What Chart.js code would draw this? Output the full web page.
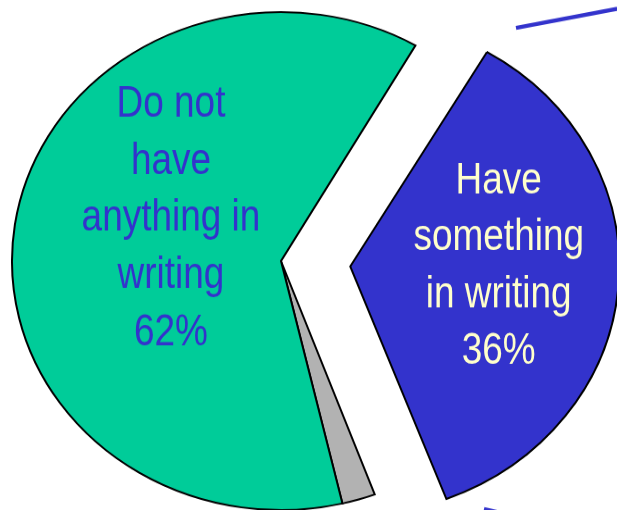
<!DOCTYPE html>
<html>
<head>
<meta charset="utf-8">
<script src="https://cdn.jsdelivr.net/npm/chart.js@4/dist/chart.umd.min.js"></script>
<style>
  html, body { margin: 0; padding: 0; background: #fff; overflow: hidden; }
  /* the original pie is a little flatter than a circle */
  #wrap { position: absolute; left: 0; top: 0; width: 617px; height: 551px; transform: scaleY(0.9257); transform-origin: 0 0; }
</style>
</head>
<body>
<div id="wrap"><canvas id="pie" width="617" height="551"></canvas></div>
<script>
const categories = ['Have something in writing', 'Other', 'Do not have anything in writing'];
const values = [36, 2, 62];
const labelLines = [['Have', 'something', 'in writing'], [], ['Do not', 'have', 'anything in', 'writing']];

const SQUISH = 0.9257;
const NARROW = 0.84; // no Arial Narrow here, so squeeze Liberation Sans instead
const sliceColors = ['#3333CC', '#B2B2B2', '#00CC99'];
const textColors = ['#FFFFCC', null, '#3333CC'];
const explode = [278, 0, 0];
// where the middle text baseline sits, as a fraction of the radius from the slice tip
const labelAnchor = [[0.552, 0.045], null, [-0.409, -0.112]];

// chart.js makes an offset slice bigger, keep it the same size as the rest
const keepRadius = {
  id: 'keepRadius',
  beforeDatasetDraw(chart, args) {
    const meta = args.meta;
    const full = meta.controller.outerRadius;
    meta.data.forEach(arc => {
      const off = (arc.options.offset || 0) / 4;
      const fix = 1 - Math.sin(Math.min(Math.PI, arc.circumference));
      arc.outerRadius = full - off * fix;
    });
  }
};

const sliceText = {
  id: 'sliceText',
  afterDatasetsDraw(chart) {
    const ctx = chart.ctx;
    const meta = chart.getDatasetMeta(0);
    const r = meta.controller.outerRadius;
    meta.data.forEach((arc, i) => {
      if (!labelAnchor[i]) return;
      const lines = labelLines[i].concat([values[i] + '%']);
      const half = (arc.startAngle + arc.endAngle) / 2;
      const shift = (arc.options.offset || 0) / 4;
      ctx.save();
      ctx.translate(arc.x + Math.cos(half) * shift, arc.y + Math.sin(half) * shift);
      ctx.scale(NARROW, 1 / SQUISH);
      ctx.font = '44px "Liberation Sans", Arial, sans-serif';
      ctx.fillStyle = textColors[i];
      ctx.textAlign = 'center';
      ctx.textBaseline = 'alphabetic';
      const mid = (lines.length - 1) / 2;
      lines.forEach((t, j) => {
        ctx.fillText(t, labelAnchor[i][0] * r / NARROW, labelAnchor[i][1] * r + (j - mid) * 57);
      });
      ctx.restore();
    });
  }
};

// the two blue leader lines running off to the right edge
const leaders = {
  id: 'leaders',
  afterDraw(chart) {
    const ctx = chart.ctx;
    ctx.save();
    ctx.scale(1, 1 / SQUISH);
    ctx.strokeStyle = '#3333CC';
    ctx.lineWidth = 4;
    ctx.beginPath();
    ctx.moveTo(516, 28);
    ctx.lineTo(640, 4.5);
    ctx.moveTo(484, 509);
    ctx.lineTo(600, 536);
    ctx.stroke();
    ctx.restore();
  }
};

new Chart(document.getElementById('pie'), {
  type: 'pie',
  data: {
    labels: categories,
    datasets: [{
      data: values,
      backgroundColor: sliceColors,
      borderColor: '#000000',
      borderWidth: 2,
      borderJoinStyle: 'miter',
      offset: explode
    }]
  },
  options: {
    responsive: false,
    animation: false,
    events: [],
    rotation: 30,
    radius: 269,
    layout: { padding: { left: 0, right: 55, top: 13, bottom: 0 } },
    plugins: {
      legend: { display: false },
      tooltip: { enabled: false }
    }
  },
  plugins: [keepRadius, sliceText, leaders]
});
</script>
</body>
</html>
